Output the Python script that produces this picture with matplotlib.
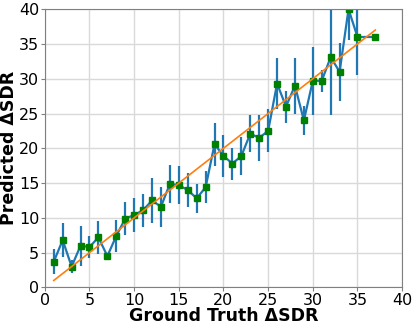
import numpy as np
import matplotlib
matplotlib.use('Agg')
from matplotlib import pyplot as plt

gt = [1, 2, 3, 4, 5, 6, 7, 8, 9, 10, 11, 12, 13, 14, 15, 16, 17, 18, 19,
      20, 21, 22, 23, 24, 25, 26, 27, 28, 29, 30, 31, 32, 33, 34, 35, 37]
pred = [3.7, 6.8, 3.0, 6.0, 5.8, 7.2, 4.5, 7.4, 9.9, 10.4, 11.1, 12.5, 11.6,
        14.9, 14.7, 14.0, 12.8, 14.4, 20.6, 18.9, 17.8, 18.9, 22.1, 21.5,
        22.5, 29.3, 26.0, 29.0, 24.0, 29.7, 29.7, 33.1, 31.0, 40.0, 36.0, 36.0]
err = [1.8, 2.4, 0.9, 2.9, 1.6, 2.4, 0.5, 2.3, 2.4, 2.5, 2.4, 3.2, 2.9,
       2.7, 2.7, 2.5, 2.1, 2.3, 3.1, 3.0, 2.3, 2.7, 2.7, 3.3,
       3.1, 3.7, 2.3, 4.0, 2.1, 4.9, 1.6, 8.3, 4.2, 4.4, 5.4, 0.0]
ideal = [1, 37]

fig = plt.figure(figsize=(4.15, 3.27), dpi=100)
ax = fig.add_axes([0.108, 0.121, 0.861, 0.851])
ax.plot(ideal, ideal, color='tab:orange', lw=1.2, zorder=3)
ax.errorbar(gt, pred, yerr=err, color='tab:blue', lw=1.6, elinewidth=1.6,
            marker='s', mfc='green', mec='green', ms=4.5, zorder=2)
ax.set_xlim(0, 40)
ax.set_ylim(0, 40)
ax.set_xticks(np.arange(0, 41, 5))
ax.set_yticks(np.arange(0, 41, 5))
ax.grid(True, color='0.85', lw=1)
ax.set_axisbelow(True)
for s in ax.spines.values():
    s.set_color('0.5')
ax.tick_params(labelsize=11.5, length=3, color='0.5', pad=1)
ax.set_xlabel('Ground Truth ΔSDR', fontsize=12.5, fontweight='bold', labelpad=-1)
ax.set_ylabel('Predicted ΔSDR', fontsize=12.5, fontweight='bold', labelpad=1)
fig.savefig('out.png', dpi=100)
